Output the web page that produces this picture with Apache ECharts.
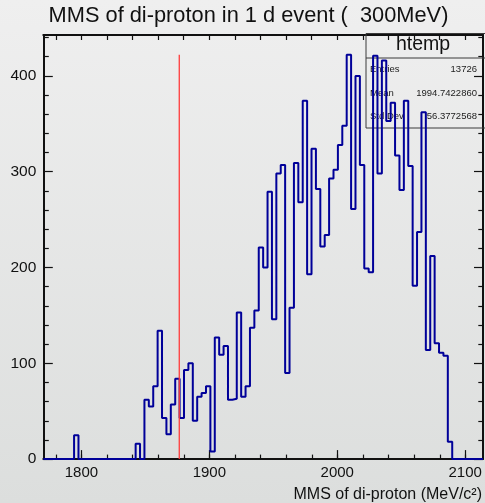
<!DOCTYPE html>
<html><head><meta charset="utf-8">
<script src="https://cdn.jsdelivr.net/npm/echarts@6/dist/echarts.min.js"></script>
<style>
html,body{margin:0;padding:0;}
body{width:485px;height:503px;background:linear-gradient(to bottom,#efefef,#dcdedd);overflow:hidden;}
#c{width:485px;height:503px;}
</style></head><body><div id="c"></div>
<script>
// ---- data ----
const titleText = 'MMS of di-proton in 1 d event (  300MeV)';
const xAxisTitle = 'MMS of di-proton (MeV/c²)';
const binLow = 1770.2;
const binWidth = 3.4375;
const counts = [
  0, 0, 0, 0, 0, 0, 0, 25, 0, 0,
  0, 0, 0, 0, 0, 0, 0, 0, 0, 0,
  0, 16, 0, 62, 55, 76, 134, 43, 26, 57,
  84, 43, 93, 100, 40, 65, 69, 76, 8, 127,
  109, 118, 62, 63, 153, 65, 76, 137, 155, 221,
  200, 279, 146, 298, 307, 90, 158, 309, 268, 374,
  193, 324, 282, 222, 234, 293, 302, 328, 348, 422,
  261, 400, 307, 199, 195, 421, 298, 416, 353, 372,
  317, 281, 374, 306, 181, 237, 362, 114, 212, 121,
  111, 108, 18, 0, 0, 0, 0, 0, 0, 0
];
const yMax = 442.7;
const xMajorTicks = [1800, 1900, 2000, 2100];
const xMinorTicks = [1780, 1800, 1820, 1840, 1860, 1880, 1900, 1920, 1940, 1960, 1980, 2000, 2020, 2040, 2060, 2080, 2100];
const yMajorTicks = [0, 100, 200, 300, 400];
const yMinorTicks = [20, 40, 60, 80, 120, 140, 160, 180, 220, 240, 260, 280, 320, 340, 360, 380, 420, 440];
const statsName = 'htemp';
const statsLabels = ['Entries', 'Mean', 'Std Dev'];
const statsValues = ['13726', '1994.7422860', '56.3772568'];
const refLineX = 1876.5;
const refLineTop = 422;

// ---- build ----
const xMax = binLow + counts.length * binWidth;
const histPts = counts.map((c, i) => [binLow + i * binWidth, c]);
histPts.push([xMax, counts[counts.length - 1]]);

const FONT = 'Liberation Sans, Arial, Helvetica, sans-serif';
const ink = '#111';
const plain = v => String(v);
const gridRect = { left: 43.3, right: 1.7, top: 35, bottom: 43.9, containLabel: false };
const tickStyle = { color: ink, width: 1.2 };

function xAx(extra) {
  return Object.assign({
    type: 'value', min: binLow, max: xMax, gridIndex: 0,
    splitLine: { show: false },
    axisLine: { show: false, onZero: false, lineStyle: { color: ink, width: 2 } },
    axisTick: { show: false },
    axisLabel: { show: false },
  }, extra);
}
function yAx(extra) {
  return Object.assign({
    type: 'value', min: 0, max: yMax, gridIndex: 0,
    splitLine: { show: false },
    axisLine: { show: false, onZero: false, lineStyle: { color: ink, width: 2 } },
    axisTick: { show: false },
    axisLabel: { show: false },
  }, extra);
}

const statsRowsY = [69.5, 93.3, 116.8];
const graphics = [
  { type: 'text', x: 248.5, y: 16.3, z: 10,
    style: { text: titleText, font: '21.8px ' + FONT, fill: '#111', textAlign: 'center', textVerticalAlign: 'middle' } },
  { type: 'rect', z: 1, shape: { x: 366, y: 33.5, width: 125, height: 94.5 },
    style: { fill: 'none', stroke: '#3a3a3a', lineWidth: 1 } },
  { type: 'line', z: 1, shape: { x1: 366, y1: 58, x2: 486, y2: 58 },
    style: { stroke: '#3a3a3a', lineWidth: 1 } },
  { type: 'text', x: 423, y: 45, z: 1,
    style: { text: statsName, font: '19.5px ' + FONT, fill: '#111', textAlign: 'center', textVerticalAlign: 'middle' } },
];
statsLabels.forEach((lab, i) => {
  graphics.push({ type: 'text', x: 370, y: statsRowsY[i], z: 1,
    style: { text: lab, font: '9.5px ' + FONT, fill: '#222', textAlign: 'left', textVerticalAlign: 'middle' } });
  graphics.push({ type: 'text', x: 477, y: statsRowsY[i], z: 1,
    style: { text: statsValues[i], font: '9.5px ' + FONT, fill: '#222', textAlign: 'right', textVerticalAlign: 'middle' } });
});

const chart = echarts.init(document.getElementById('c'), null, { renderer: 'canvas' });
chart.setOption({
  animation: false,
  backgroundColor: 'transparent',
  grid: [Object.assign({}, gridRect), Object.assign({}, gridRect), Object.assign({}, gridRect)],
  xAxis: [
    // grid 0: main bottom axis with major ticks + labels + title
    xAx({ gridIndex: 0, position: 'bottom',
      axisLine: { show: true, onZero: false, lineStyle: { color: ink, width: 2 } },
      axisTick: { show: true, inside: true, length: 9, customValues: xMajorTicks, lineStyle: tickStyle },
      axisLabel: { show: true, customValues: xMajorTicks, formatter: plain, fontSize: 15, color: ink, margin: 6, fontFamily: FONT },
      name: xAxisTitle, nameLocation: 'end', nameGap: -1,
      nameTextStyle: { fontSize: 16, color: ink, fontFamily: FONT, align: 'right', verticalAlign: 'top', padding: [27, 0, 0, 0] } }),
    // grid 0: top frame with small ticks
    xAx({ gridIndex: 0, position: 'top',
      axisLine: { show: true, onZero: false, lineStyle: { color: ink, width: 2 } },
      axisTick: { show: true, inside: true, length: 5, customValues: xMinorTicks, lineStyle: tickStyle } }),
    // grid 1: bottom minor ticks
    xAx({ gridIndex: 1, position: 'bottom',
      axisTick: { show: true, inside: true, length: 4.5, customValues: xMinorTicks, lineStyle: tickStyle } }),
    // grid 2: placeholder
    xAx({ gridIndex: 2, position: 'bottom', show: false }),
  ],
  yAxis: [
    // grid 0: left major ticks + labels
    yAx({ gridIndex: 0, position: 'left',
      axisLine: { show: true, onZero: false, lineStyle: { color: ink, width: 2 } },
      axisTick: { show: true, inside: true, length: 9.5, customValues: yMajorTicks, lineStyle: tickStyle },
      axisLabel: { show: true, customValues: yMajorTicks, formatter: plain, fontSize: 15.5, color: ink, margin: 7, fontFamily: FONT } }),
    // grid 0: right frame with major ticks
    yAx({ gridIndex: 0, position: 'right',
      axisLine: { show: true, onZero: false, lineStyle: { color: ink, width: 2 } },
      axisTick: { show: true, inside: true, length: 9, customValues: yMajorTicks, lineStyle: tickStyle } }),
    // grid 1: left minor ticks
    yAx({ gridIndex: 1, position: 'left',
      axisTick: { show: true, inside: true, length: 5.5, customValues: yMinorTicks, lineStyle: tickStyle } }),
    // grid 2: right minor ticks
    yAx({ gridIndex: 2, position: 'right',
      axisTick: { show: true, inside: true, length: 5, customValues: yMinorTicks, lineStyle: tickStyle } }),
  ],
  series: [
    { type: 'line', name: 'htemp', xAxisIndex: 0, yAxisIndex: 0, data: histPts, step: 'end',
      symbol: 'none', showSymbol: false, silent: true, clip: false, z: 3,
      lineStyle: { color: '#000099', width: 2 } },
    { type: 'line', name: 'ref', xAxisIndex: 0, yAxisIndex: 0,
      data: [[refLineX, 0], [refLineX, refLineTop]],
      symbol: 'none', showSymbol: false, silent: true, z: 4,
      lineStyle: { color: '#ff3b3b', width: 1.3 } },
  ],
  graphic: graphics,
});
</script>
</body></html>
